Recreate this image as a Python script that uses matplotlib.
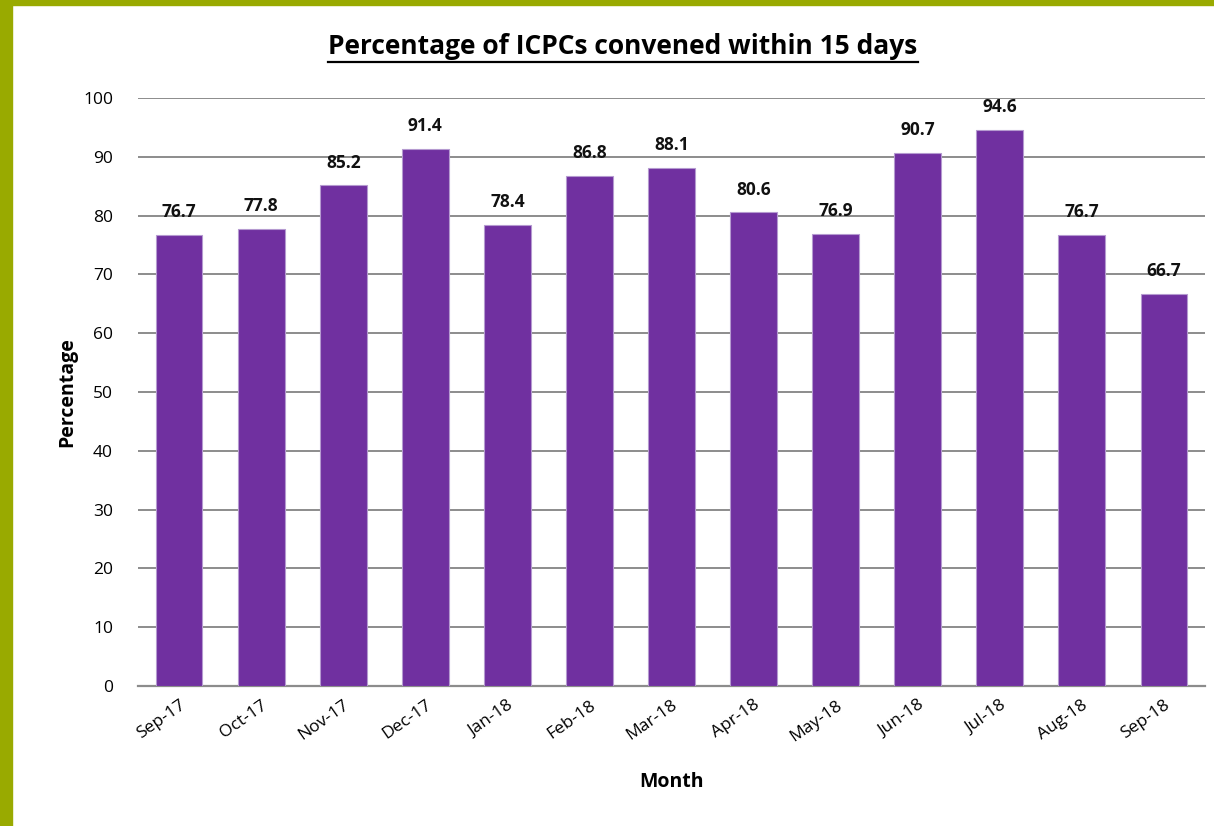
import numpy as np
import matplotlib.pyplot as plt
from matplotlib.patches import Rectangle
from matplotlib.lines import Line2D

months = ['Sep-17', 'Oct-17', 'Nov-17', 'Dec-17', 'Jan-18', 'Feb-18', 'Mar-18',
          'Apr-18', 'May-18', 'Jun-18', 'Jul-18', 'Aug-18', 'Sep-18']
pct = [76.7, 77.8, 85.2, 91.4, 78.4, 86.8, 88.1, 80.6, 76.9, 90.7, 94.6, 76.7, 66.7]
yticks = [0, 10, 20, 30, 40, 50, 60, 70, 80, 90, 100]

plt.rcParams['font.family'] = ['Open Sans', 'DejaVu Sans']

fig = plt.figure(figsize=(12.14, 8.26), dpi=100)
W, H = 1214, 826
ax = fig.add_axes([138 / W, 1 - 686 / H, (1205 - 138) / W, (686 - 98) / H])

# green frame on left and top
fig.patches.append(Rectangle((0, 0), 12 / W, 1, transform=fig.transFigure,
                             color='#99AA00', zorder=0))
fig.patches.append(Rectangle((0, 1 - 5 / H), 1, 5 / H, transform=fig.transFigure,
                             color='#99AA00', zorder=0))

x = np.arange(len(months))
ax.bar(x, pct, width=0.57, color='#7030A0', edgecolor='#B59AD0',
       linewidth=0.8, zorder=3)
for xi, v in zip(x, pct):
    ax.text(xi, v + 2.3, f'{v:.1f}', ha='center', va='bottom',
            fontsize=12.5, fontweight='bold', color='#111111')

ax.set_xlim(-0.5, len(months) - 0.5)
ax.set_ylim(0, 100)
ax.set_yticks(yticks)
ax.tick_params(axis='y', length=0, labelsize=12.5, pad=18)
ax.tick_params(axis='x', length=0, labelsize=12.5, pad=8)
ax.set_xticks(x)
ax.set_xticklabels(months, rotation=35, ha='right', rotation_mode='anchor')
ax.grid(axis='y', color='#8C8C8C', linewidth=1.4, zorder=0)
for s in ['top', 'right', 'left']:
    ax.spines[s].set_visible(False)
ax.spines['bottom'].set_color('#8C8C8C')
ax.spines['bottom'].set_linewidth(1.6)

ax.set_ylabel('Percentage', fontsize=14, fontweight='bold', labelpad=4)
ax.set_xlabel('Month', fontsize=14, fontweight='bold', labelpad=20)

title = fig.text(0.5 + 16 / W, 1 - 47 / H, 'Percentage of ICPCs convened within 15 days',
                 ha='center', va='center', fontsize=19, fontweight='bold')

# underline the title
fig.canvas.draw()
bb = title.get_window_extent().transformed(fig.transFigure.inverted())
uy = bb.y0 - 1 / H
fig.lines.append(Line2D([bb.x0, bb.x1], [uy, uy], transform=fig.transFigure,
                        color='black', linewidth=1.6))

fig.savefig('out.png', dpi=100)
